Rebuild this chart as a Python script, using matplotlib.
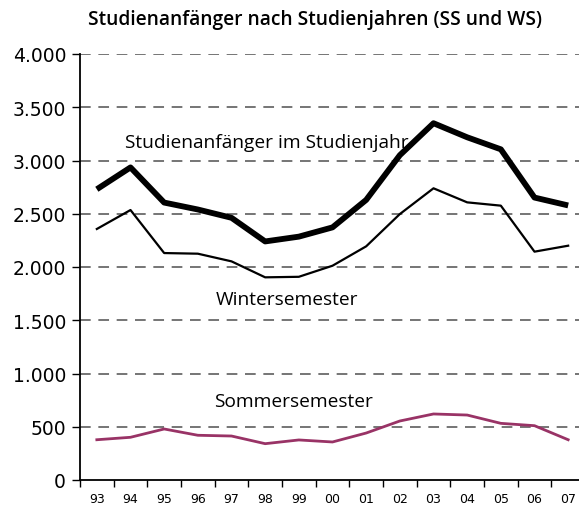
import matplotlib
matplotlib.use("Agg")
import matplotlib.pyplot as plt
from matplotlib.ticker import FuncFormatter

years = ["93", "94", "95", "96", "97", "98", "99", "00", "01", "02", "03", "04", "05", "06", "07"]
studienjahr = [2730, 2935, 2605, 2540, 2462, 2240, 2285, 2372, 2630, 3050, 3350, 3218, 3105, 2652, 2578]
wintersemester = [2357, 2535, 2131, 2125, 2053, 1903, 1908, 2012, 2194, 2497, 2739, 2607, 2576, 2144, 2200]
sommersemester = [378, 401, 479, 420, 413, 341, 376, 357, 441, 554, 620, 610, 532, 510, 378]

W, H = 579, 506
fig = plt.figure(figsize=(W / 100, H / 100), dpi=100)
ax = fig.add_axes([80 / W, 25 / H, 505 / W, 426 / H])

x = list(range(len(years)))
ax.plot(x, studienjahr, color="black", lw=4.2, solid_capstyle="butt", zorder=3)
ax.plot(x, wintersemester, color="black", lw=1.6, zorder=3)
ax.plot(x, sommersemester, color="#993366", lw=2.0, zorder=3)

ax.set_xlim(-0.5, len(years) - 0.5)
ax.set_ylim(0, 4000)
ax.set_yticks(range(0, 4001, 500))
ax.yaxis.set_major_formatter(FuncFormatter(lambda v, p: f"{int(v):,}".replace(",", ".")))
ax.set_xticks(x)
ax.set_xticklabels(years, fontsize=9)
ax.set_xticks([i - 0.5 for i in range(len(years) + 1)], minor=True)
ax.tick_params(axis="x", which="major", length=0, pad=9)
ax.tick_params(axis="x", which="minor", length=5, width=1, direction="out")
ax.tick_params(axis="y", length=6, width=1, direction="out", labelsize=13.5, pad=4)

for v in range(500, 4001, 500):
    ax.axhline(v, color="#505050", lw=1.1, ls=(0, (7, 5)), zorder=1)

for s in ["top", "right"]:
    ax.spines[s].set_visible(False)
ax.spines["left"].set_linewidth(1.3)
ax.spines["bottom"].set_linewidth(1.3)

tfont = "Open Sans"
ax.text(0.84, 3170, "Studienanfänger im Studienjahr", fontsize=13.8, family=tfont,
        ha="left", va="center")
ax.text(3.52, 1700, "Wintersemester", fontsize=13.8, family=tfont, ha="left", va="center")
ax.text(3.49, 742, "Sommersemester", fontsize=13.8, family=tfont, ha="left", va="center")

fig.text(315 / W, 1 - 20 / H, "Studienanfänger nach Studienjahren (SS und WS)",
         fontsize=13.8, family=tfont, fontweight="semibold", ha="center", va="center")

fig.savefig("out.png", dpi=100)
